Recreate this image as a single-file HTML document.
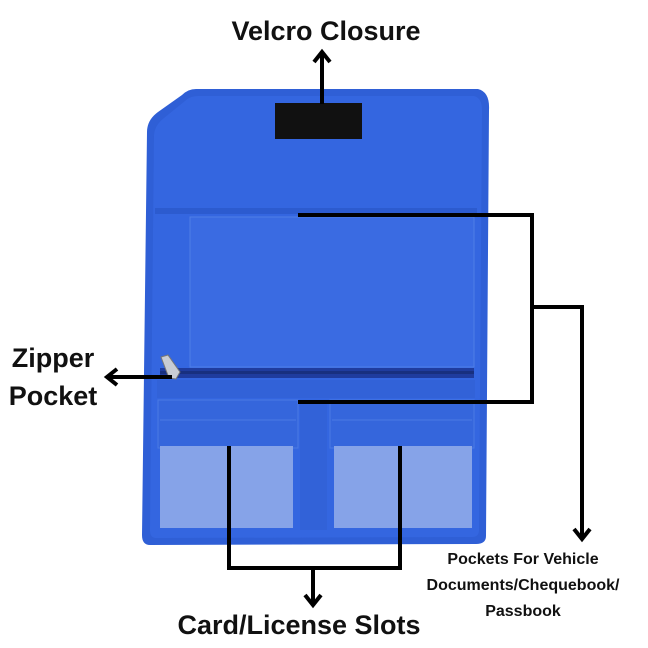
<!DOCTYPE html>
<html><head><meta charset="utf-8"><style>
html,body{margin:0;padding:0;background:#fff}
svg{display:block}
text{font-family:"Liberation Sans",sans-serif;font-weight:bold;fill:#111}
</style></head><body>
<svg width="648" height="648" viewBox="0 0 648 648" xmlns="http://www.w3.org/2000/svg">
<!-- wallet -->
<path d="M196,89 L478,89 Q490,92 489,110 L486,536 Q486,544 476,544 L150,545 Q142,545 142,535 L147,132 Q147,120 158,112 L182,95 Q188,89 196,89 Z" fill="#2f5fd6"/>
<path d="M198,96 L474,96 Q482,98 482,110 L479,530 Q479,537 472,537 L156,538 Q150,538 150,530 L154,136 Q154,126 164,118 L185,101 Q190,96 198,96 Z" fill="#3466e0"/>
<!-- flap fold line -->
<rect x="155" y="208" width="322" height="6" fill="#2c5bcf"/>
<!-- upper pocket -->
<rect x="190" y="217" width="284" height="150" fill="#3a6be2" stroke="#4f7fe6" stroke-width="1"/>
<!-- zipper -->
<rect x="160" y="368" width="314" height="10" fill="#1f3c9e"/>
<rect x="160" y="371" width="314" height="3" fill="#183080"/>
<path d="M161,357 L168,355 L180,372 L176,379 L169,378 Z" fill="#c8ccd4" stroke="#777" stroke-width="1"/>
<!-- lower area -->
<rect x="157" y="380" width="318" height="18" fill="#3262d8"/>
<rect x="158" y="400" width="140" height="48" fill="#3566dc" stroke="#4a7ae4" stroke-width="1"/>
<rect x="330" y="400" width="144" height="48" fill="#3566dc" stroke="#4a7ae4" stroke-width="1"/>
<line x1="160" y1="420" x2="296" y2="420" stroke="#4a7ae4"/>
<line x1="332" y1="420" x2="472" y2="420" stroke="#4a7ae4"/>
<rect x="300" y="400" width="27" height="130" fill="#3262d8"/>
<!-- clear windows -->
<rect x="160" y="446" width="133" height="82" fill="#86a3e8"/>
<rect x="334" y="446" width="138" height="82" fill="#86a3e8"/>
<!-- velcro -->
<rect x="275" y="103" width="87" height="36" fill="#111"/>
<!-- annotations -->
<g stroke="#000" stroke-width="4" fill="none">
<line x1="322" y1="52" x2="322" y2="104"/>
<polyline points="314,62 322,52 330,62"/>
<polyline points="298,215 532,215 532,402 298,402"/>
<polyline points="532,307 582,307 582,538"/>
<polyline points="574,529 582,539 590,529"/>
<line x1="172" y1="377" x2="108" y2="377"/>
<polyline points="117,369 107,377 117,385"/>
<polyline points="229,446 229,568 400,568 400,446"/>
<line x1="313" y1="568" x2="313" y2="604"/>
<polyline points="305,595 313,605 321,595"/>
</g>
<text x="326" y="40" font-size="27" text-anchor="middle">Velcro Closure</text>
<text x="53" y="367" font-size="27" text-anchor="middle">Zipper</text>
<text x="53" y="405" font-size="27" text-anchor="middle">Pocket</text>
<text x="299" y="634" font-size="27" text-anchor="middle">Card/License Slots</text>
<text x="523" y="564" font-size="16" text-anchor="middle">Pockets For Vehicle</text>
<text x="523" y="590" font-size="16" text-anchor="middle">Documents/Chequebook/</text>
<text x="523" y="616" font-size="16" text-anchor="middle">Passbook</text>
</svg>
</body></html>
